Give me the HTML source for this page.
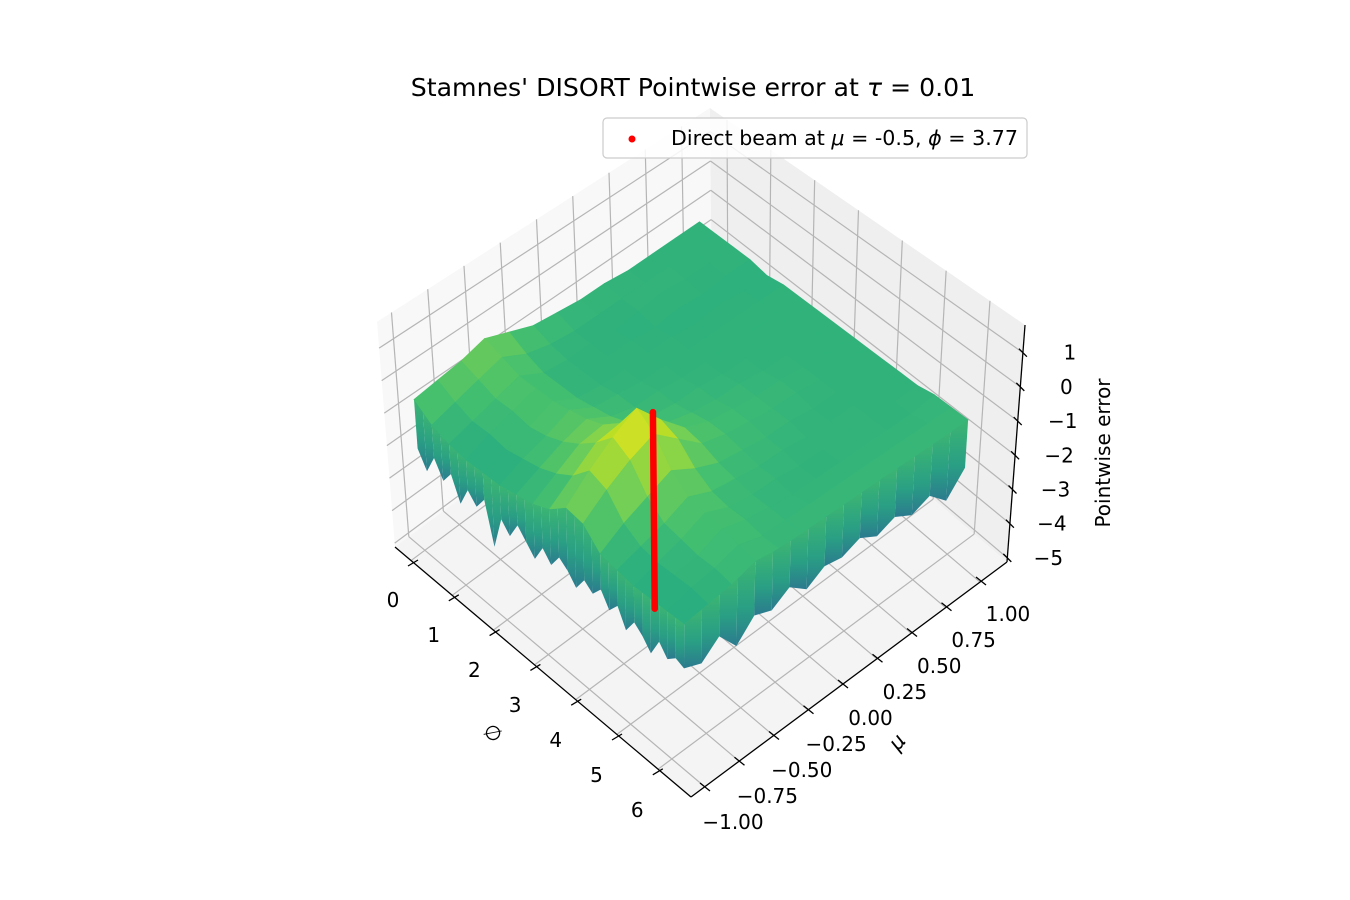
<!DOCTYPE html>
<html><head><meta charset="utf-8"><style>
html,body{margin:0;padding:0;background:#fff;}
svg{display:block;font-family:"DejaVu Sans","Liberation Sans",sans-serif;}
</style></head><body>
<svg id="chart" width="1350" height="900" viewBox="0 0 1350 900" xmlns="http://www.w3.org/2000/svg">
<defs>
<linearGradient id="curtainGrad" x1="0" y1="0" x2="0" y2="1">
<stop offset="0" stop-color="#3cb572"/><stop offset="0.55" stop-color="#2a9f84"/><stop offset="1" stop-color="#2b7a8e"/>
</linearGradient>
</defs>
<g id="panes"></g>
<g id="grid"></g>
<g id="axes"></g>
<g id="surface"></g>
<g id="curtain"></g>
<g id="beam"></g>
<text x="693" y="96" text-anchor="middle" font-size="25.2" fill="#000">Stamnes' DISORT Pointwise error at <tspan font-style="italic">τ</tspan> = 0.01</text>
<g>
<rect x="603" y="118" width="424" height="40" rx="4" fill="#fff" fill-opacity="0.85" stroke="#cccccc" stroke-width="1.2"/>
<circle cx="632" cy="139" r="3.5" fill="#ff0000"/>
<text x="671" y="145" font-size="20.6" fill="#000">Direct beam at <tspan font-style="italic">μ</tspan> = -0.5, <tspan font-style="italic">ϕ</tspan> = 3.77</text>
</g>
<text x="493" y="733" text-anchor="middle" dominant-baseline="central" font-size="20" transform="rotate(40 493 733)">∅</text>
<text x="897" y="742" text-anchor="middle" dominant-baseline="central" font-size="21" font-style="italic" transform="rotate(-50 897 742)">μ</text>
<text x="1103" y="453" text-anchor="middle" dominant-baseline="central" font-size="20" transform="rotate(-90 1103 453)">Pointwise error</text>
</svg>
<script>
// ---- data ----
const phiTicks = [0, 1, 2, 3, 4, 5, 6];
const muTicks = [-1, -0.75, -0.5, -0.25, 0, 0.25, 0.5, 0.75, 1];
const muTickLabels = ["\u22121.00","\u22120.75","\u22120.50","\u22120.25","0.00","0.25","0.50","0.75","1.00"];
const zTicks = [1, 0, -1, -2, -3, -4, -5];
const zTickLabels = ["1","0","\u22121","\u22122","\u22123","\u22124","\u22125"];
const muGrid = [-1, -0.833, -0.667, -0.5, -0.333, -0.167, 0, 0.167, 0.333, 0.5, 0.667, 0.833, 1];
const phiGrid = [0,0.393,0.785,1.178,1.571,1.963,2.356,2.749,3.142,3.534,3.927,4.320,4.712,5.105,5.498,5.890,6.283];
const zRow0  = [-0.5,-0.9,-1.1,-1.2,-1.2,-1.2,-1.1,-1.0,-0.8,-0.4,-0.5,-1.0,-1.1,-1.2,-1.2,-1.2,-1.2];
const zRow1  = [-0.4,-0.7,-0.9,-0.9,-1.0,-0.9,-0.8,-0.6,-0.3,0.2,0.0,-0.6,-0.9,-1.0,-1.0,-1.0,-1.1];
const zRow2  = [-0.3,-0.5,-0.7,-0.7,-0.8,-0.7,-0.5,-0.2,0.2,0.7,0.4,-0.3,-0.7,-0.8,-0.9,-0.9,-1.0];
const zRow3  = [-0.1,-0.3,-0.5,-0.5,-0.5,-0.4,-0.3,-0.1,0.3,1.1,0.7,0.0,-0.4,-0.5,-0.6,-0.7,-0.8];
const zRow4  = [-0.4,-0.7,-0.9,-0.9,-0.9,-0.8,-0.7,-0.5,-0.2,0.3,0.1,-0.4,-0.7,-0.8,-0.8,-0.9,-0.9];
const zRow5  = [-0.7,-0.9,-1.0,-1.0,-1.0,-0.9,-0.9,-0.8,-0.6,-0.4,-0.5,-0.7,-0.8,-0.9,-0.9,-0.9,-0.9];
const zRow6  = [-0.8,-1.0,-1.0,-1.0,-1.0,-1.0,-0.9,-0.9,-0.8,-0.7,-0.7,-0.8,-0.9,-0.9,-1.0,-0.9,-0.9];
const zRow7  = [-0.9,-1.0,-1.1,-1.0,-1.0,-1.0,-1.0,-0.9,-0.9,-0.8,-0.8,-0.9,-0.9,-1.0,-1.0,-0.9,-0.9];
const zRow8  = [-0.9,-1.0,-1.0,-1.1,-1.0,-1.0,-1.0,-1.0,-0.9,-0.9,-0.9,-0.9,-1.0,-1.0,-1.0,-0.9,-0.9];
const zRow9  = [-1.0,-1.0,-0.9,-1.0,-1.1,-1.0,-1.0,-1.0,-1.0,-0.9,-0.9,-1.0,-1.0,-0.9,-1.0,-0.9,-0.9];
const zRow10 = [-1.0,-1.0,-1.0,-1.1,-1.0,-1.0,-1.0,-1.0,-1.0,-1.0,-1.0,-1.0,-1.0,-1.0,-1.0,-0.9,-0.9];
const zRow11 = [-1.0,-1.0,-1.0,-1.0,-1.1,-1.0,-1.0,-1.0,-1.0,-1.0,-1.0,-1.0,-1.0,-1.0,-1.0,-0.9,-0.9];
const zRow12 = [-1.0,-1.0,-1.0,-1.0,-1.1,-1.0,-1.0,-1.0,-1.0,-1.0,-1.0,-1.0,-1.0,-1.0,-0.9,-0.9,-0.9];
const zGrid = [zRow0,zRow1,zRow2,zRow3,zRow4,zRow5,zRow6,zRow7,zRow8,zRow9,zRow10,zRow11,zRow12];
// edge drops (33 samples along mu=-1 edge, 17 along phi=2pi edge)
const edgeDropMuLow = [-2.0,-2.5,-1.9,-2.4,-2.0,-2.7,-2.1,-2.4,-2.0,-3.2,-2.2,-2.5,-2.0,-2.3,-2.6,-2.1,-2.4,-2.0,-2.2,-2.5,-2.1,-2.3,-2.0,-2.4,-2.1,-2.6,-2.2,-2.4,-2.7,-2.2,-2.5,-2.3,-2.4];
const edgeDropPhiHigh = [-2.4,-2.6,-2.2,-2.8,-2.3,-2.5,-2.2,-2.6,-2.3,-2.4,-2.2,-2.5,-2.3,-2.6,-2.4,-2.9,-2.3];
const beamPhi = [3.77];
const beamMu = [-0.5];
const beamZ = [-4.5, 1.2];

// ---- projection ----
const PHI_LO=-0.39, PHI_HI=6.80, MU_LO=-1.10, MU_HI=1.196, ZMIN=-5.12, ZMAX=1.81;
const CL=[395,547,32.5,-2.6], CB=[691,797,37.4,0.3], CR=[1007,562,34.2,2.6], CK=[712,311,29.3,-0.3];
function P(phi,mu,z){
  const u=(phi-PHI_LO)/(PHI_HI-PHI_LO), v=(mu-MU_LO)/(MU_HI-MU_LO);
  const a=(1-u)*(1-v), b=u*(1-v), c=u*v, d=(1-u)*v;
  const f=i=>a*CL[i]+b*CB[i]+c*CR[i]+d*CK[i];
  const h=z-ZMIN;
  return [f(0)+f(3)*h, f(1)-f(2)*h];
}
function phiTickPos(p){return [413+40.8*p, 563+34.8*p];}
function phiLabelPos(p){return [393+40.7*p, 600+35*p];}
function muTickPos(m){return [705+(m+1)*138, 787-(m+1)*103];}
function muLabelPos(m){return [733+(m+1)*137.5, 822-(m+1)*104];}
function zLabelPos(z){const q=P(PHI_HI,MU_HI,z);return [q[0]+41+(z+5)*1.0, q[1]];}

const VIR=[[0,68,1,84],[0.1,72,36,117],[0.2,65,68,135],[0.3,53,95,141],[0.4,42,120,142],[0.5,33,145,140],[0.6,34,168,132],[0.7,68,191,112],[0.8,122,209,81],[0.9,189,223,38],[1,253,231,37]];
function cmap(z){
  let t=(z+5)/(1.2+5); t=Math.max(0,Math.min(1,t));
  for(let i=0;i<VIR.length-1;i++){const A=VIR[i],B=VIR[i+1];
    if(t<=B[0]){const f=(t-A[0])/(B[0]-A[0]);
      return `rgb(${Math.round(A[1]+f*(B[1]-A[1]))},${Math.round(A[2]+f*(B[2]-A[2]))},${Math.round(A[3]+f*(B[3]-A[3]))})`;}}
  return "rgb(253,231,37)";
}
const NS="http://www.w3.org/2000/svg";
function mk(tag,attrs,parent){const e=document.createElementNS(NS,tag);for(const k in attrs)e.setAttribute(k,attrs[k]);parent.appendChild(e);return e;}
const pts=a=>a.map(p=>p[0].toFixed(1)+","+p[1].toFixed(1)).join(" ");

// panes
const gP=document.getElementById("panes");
let e;
e=mk("polygon",{points:pts([P(PHI_LO,MU_LO,ZMIN),P(PHI_LO,MU_HI,ZMIN),P(PHI_LO,MU_HI,ZMAX),P(PHI_LO,MU_LO,ZMAX)]),fill:"#f8f8f8"},gP);


e=mk("polygon",{points:pts([P(PHI_LO,MU_HI,ZMIN),P(PHI_HI,MU_HI,ZMIN),P(PHI_HI,MU_HI,ZMAX),P(PHI_LO,MU_HI,ZMAX)]),fill:"#efefef"},gP);


e=mk("polygon",{points:pts([P(PHI_LO,MU_LO,ZMIN),P(PHI_HI,MU_LO,ZMIN),P(PHI_HI,MU_HI,ZMIN),P(PHI_LO,MU_HI,ZMIN)]),fill:"#f4f4f4"},gP);



// grid
const gG=document.getElementById("grid");
function gl(a,b,name){const l=mk("line",{x1:a[0],y1:a[1],x2:b[0],y2:b[1],stroke:"#b5b5b5","stroke-width":1.2},gG);

}
phiTicks.forEach(p=>{gl(P(p,MU_LO,ZMIN),P(p,MU_HI,ZMIN),'floor-grid-phi');gl(P(p,MU_HI,ZMIN),P(p,MU_HI,ZMAX),'back-grid-phi');});
muTicks.forEach(m=>{gl(P(PHI_LO,m,ZMIN),P(PHI_HI,m,ZMIN),'floor-grid-mu');gl(P(PHI_LO,m,ZMIN),P(PHI_LO,m,ZMAX),'side-grid-mu');});
zTicks.forEach(z=>{gl(P(PHI_LO,MU_LO,z),P(PHI_LO,MU_HI,z),'side-grid-z');gl(P(PHI_LO,MU_HI,z),P(PHI_HI,MU_HI,z),'back-grid-z');});

// axes
const gA=document.getElementById("axes");
function al(a,b,name,w){const l=mk("line",{x1:a[0],y1:a[1],x2:b[0],y2:b[1],stroke:"#000","stroke-width":w||1.3},gA);

}
function tx(p,s,name,fs){const t=mk("text",{x:p[0],y:p[1],"text-anchor":"middle","dominant-baseline":"central","font-size":fs||20},gA);t.textContent=s;

}
al(P(PHI_LO,MU_LO,ZMIN),P(PHI_HI,MU_LO,ZMIN),'phi-axis-line');
al(P(PHI_HI,MU_LO,ZMIN),P(PHI_HI,MU_HI,ZMIN),'mu-axis-line');
al(P(PHI_HI,MU_HI,ZMIN),P(PHI_HI,MU_HI,ZMAX),'z-axis-line');
phiTicks.forEach(p=>{const t=phiTickPos(p);al([t[0]-5,t[1]+3],[t[0]+5,t[1]-3],'phi-tick');tx(phiLabelPos(p),String(p),'phi-tick-label');});
muTicks.forEach((m,i)=>{const t=muTickPos(m);al([t[0]-5,t[1]-4],[t[0]+5,t[1]+4],'mu-tick');tx(muLabelPos(m),muTickLabels[i],'mu-tick-label');});
zTicks.forEach((z,i)=>{const t=P(PHI_HI,MU_HI,z);al([t[0]-4,t[1]-4],[t[0]+4,t[1]+4],'z-tick');tx(zLabelPos(z),zTickLabels[i],'z-tick-label');});

// surface
const gS=document.getElementById("surface");
const quads=[];
for(let i=0;i<muGrid.length-1;i++)for(let j=0;j<phiGrid.length-1;j++)quads.push([i,j]);
quads.sort((a,b)=>(a[1]+(12-a[0]))-(b[1]+(12-b[0])));
quads.forEach(([i,j])=>{
  const z1=zGrid[i][j],z2=zGrid[i][j+1],z3=zGrid[i+1][j+1],z4=zGrid[i+1][j];
  const col=cmap((z1+z2+z3+z4)/4);
  const q=mk("polygon",{points:pts([P(phiGrid[j],muGrid[i],z1),P(phiGrid[j+1],muGrid[i],z2),P(phiGrid[j+1],muGrid[i+1],z3),P(phiGrid[j],muGrid[i+1],z4)]),fill:col,stroke:col,"stroke-width":0.8,"stroke-linejoin":"round"},gS);
  
  
});

// edge curtains
const gC=document.getElementById("curtain");
function edgeTop(arr,k,n){
  const pos=k*(arr.length-1)/(n-1), a=Math.floor(pos), f=pos-a;
  return a>=arr.length-1?arr[arr.length-1]:arr[a]*(1-f)+arr[a+1]*f;
}
const nA=edgeDropMuLow.length;
for(let k=0;k<nA-1;k++){
  const p0=phiGrid[0]+(phiGrid[16]-phiGrid[0])*k/(nA-1), p1=phiGrid[0]+(phiGrid[16]-phiGrid[0])*(k+1)/(nA-1);
  const s=mk("polygon",{points:pts([P(p0,-1,edgeTop(zRow0,k,nA)),P(p1,-1,edgeTop(zRow0,k+1,nA)),P(p1,-1,edgeDropMuLow[k+1]),P(p0,-1,edgeDropMuLow[k])]),fill:"url(#curtainGrad)"},gC);
  
  
}
const colHigh=zGrid.map(r=>r[16]);
const nB=edgeDropPhiHigh.length;
for(let k=0;k<nB-1;k++){
  const m0=-1+2*k/(nB-1), m1=-1+2*(k+1)/(nB-1);
  const s=mk("polygon",{points:pts([P(phiGrid[16],m0,edgeTop(colHigh,k,nB)),P(phiGrid[16],m1,edgeTop(colHigh,k+1,nB)),P(phiGrid[16],m1,edgeDropPhiHigh[k+1]),P(phiGrid[16],m0,edgeDropPhiHigh[k])]),fill:"url(#curtainGrad)"},gC);
  
  
}

// beam
const gB=document.getElementById("beam");
const b0=P(beamPhi[0],beamMu[0],beamZ[0]), b1=P(beamPhi[0],beamMu[0],beamZ[1]);
const bl=mk("line",{x1:b0[0]+6,y1:b0[1],x2:b1[0]+6,y2:b1[1],stroke:"#ff0000","stroke-width":6.5,"stroke-linecap":"round"},gB);


</script>
</body></html>
